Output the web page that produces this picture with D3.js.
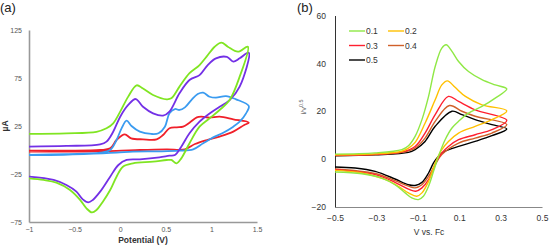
<!DOCTYPE html>
<html><head><meta charset="utf-8">
<script src="https://cdn.jsdelivr.net/npm/d3@7"></script>
<style>body{margin:0;background:#fff}svg{display:block}</style>
</head><body>
<script>
// ---------- Panel (a) data: [potential V, current µA], forward then reverse sweep
const aXTicks = [-1, -0.5, 0, 0.5, 1, 1.5];
const aYTicks = [-75, -25, 25, 75, 125];
const aGreen = [[-1,16.7],[-0.59,17.4],[-0.26,19],[-0.15,22.6],[-0.077,27.8],[0,40],[0.088,55.6],[0.18,67.4],[0.25,64],[0.36,57.3],[0.51,52.8],[0.56,53.8],[0.65,66],[0.76,80],[0.87,88.5],[0.945,97],[1.036,107.6],[1.11,111.8],[1.18,107.6],[1.29,102.4],[1.40,107.6],
  [1.31,76.4],[1.20,52],[1.09,41.7],[0.98,33],[0.87,24.3],[0.76,7],[0.67,-8.7],[0.617,-13.9],[0.56,-10.4],[0.51,-10.4],[0.36,-12.2],[0.14,-13.9],[0.03,-17.4],[-0.04,-27.8],[-0.11,-41.7],[-0.19,-53.8],[-0.26,-62.5],[-0.31,-65],[-0.37,-60.8],[-0.44,-52],[-0.55,-41.7],[-0.70,-34],[-0.84,-31.2],[-1,-29.5]];
const aPurple = [[-1,3.5],[-0.59,4.2],[-0.22,5.9],[-0.15,8.7],[-0.077,19],[0,34.7],[0.088,46.9],[0.17,53.1],[0.25,45],[0.36,38.2],[0.47,35.8],[0.54,40],[0.65,59],[0.76,72.9],[0.87,78],[0.96,88.5],[1.05,95.5],[1.17,97],[1.24,92],[1.31,95.5],[1.41,101.4],
  [1.31,66],[1.20,52],[1.09,45],[0.98,38],[0.87,29.5],[0.76,17.4],[0.67,3.5],[0.60,-5.2],[0.54,-5.9],[0.43,-7.6],[0.215,-9.7],[0.07,-10.4],[-0.02,-15.6],[-0.11,-27.8],[-0.22,-43.4],[-0.30,-52],[-0.35,-54.5],[-0.41,-51.4],[-0.48,-43.4],[-0.59,-36.5],[-0.73,-31.2],[-1,-27.8]];
const aBlue = [[-1,-5.2],[-0.59,-4.2],[-0.22,-2.8],[-0.11,0],[-0.04,10.4],[0.015,22.6],[0.07,30.6],[0.124,25],[0.215,19.1],[0.34,16.7],[0.42,17.4],[0.49,24.3],[0.54,38.2],[0.60,42.7],[0.65,41.7],[0.71,44.4],[0.78,52],[0.85,58.3],[0.91,59.7],[0.98,55.5],[1.05,54.5],[1.16,56.2],[1.27,52.8],[1.41,45.8],
  [1.38,38.2],[1.31,29.5],[1.24,24.3],[1.13,18],[1.02,13.2],[0.91,7],[0.80,0.7],[0.65,-0.7],[0.43,-1.4],[0.14,-1.7],[-0.04,-2.8],[-0.40,-4.2],[-0.77,-5.2],[-1,-5.2]];
const aRed = [[-1,-0.7],[-0.59,-0.7],[-0.22,0],[-0.11,1.7],[-0.04,10.4],[0.05,16.3],[0.12,12.2],[0.25,11.1],[0.40,11.1],[0.47,15.6],[0.54,22.6],[0.62,23.6],[0.69,24.3],[0.76,28.5],[0.84,34],[0.89,34.7],[0.98,33.7],[1.09,34.7],[1.24,32],[1.41,28.5],
  [1.36,26],[1.24,19.1],[1.09,14],[0.95,10.4],[0.82,6.2],[0.71,0.7],[0.51,0.7],[0.215,0],[-0.04,-1],[-0.40,-1.7],[-1,-1.7]];

// ---------- Panel (b) data: [V vs Fc, i/v^0.5]
const bXTicks = [-0.5, -0.3, -0.1, 0.1, 0.3, 0.5];
const bYTicks = [-20, 0, 20, 40, 60];
const bLabels = ["0.1", "0.2", "0.3", "0.4", "0.5"];
const b01 = [[-0.5,2.1],[-0.306,2.6],[-0.177,4],[-0.145,5.6],[-0.113,9.5],[-0.08,16.5],[-0.048,26.2],[-0.016,38.7],[0.016,46.4],[0.037,47.8],[0.065,45],[0.097,40.8],[0.145,36.6],[0.21,33.2],[0.274,31],[0.33,29.3],
  [0.274,25.5],[0.21,22],[0.145,19.2],[0.097,15.8],[0.065,13],[0.032,8.1],[0.0,1.2],[-0.024,-5.1],[-0.048,-11.3],[-0.073,-15.5],[-0.097,-16.9],[-0.129,-16.2],[-0.161,-14.1],[-0.21,-10.7],[-0.274,-7.9],[-0.37,-6.1],[-0.5,-5.4]];
const b02 = [[-0.5,1.8],[-0.306,2.2],[-0.177,3.3],[-0.145,4.6],[-0.113,7],[-0.065,15],[-0.016,24.8],[0.016,31],[0.043,32.7],[0.08,30],[0.13,26.2],[0.21,22.7],[0.33,20.2],
  [0.258,16.5],[0.177,13.7],[0.097,10.9],[0.048,7.4],[0.016,4],[-0.016,-1.6],[-0.048,-9.3],[-0.08,-14.1],[-0.105,-15.5],[-0.145,-14.1],[-0.19,-11.6],[-0.255,-8.6],[-0.37,-5.8],[-0.5,-4.7]];
const b03 = [[-0.5,1.6],[-0.306,2],[-0.177,3],[-0.113,5.3],[-0.065,10.9],[-0.016,18.6],[0.048,26.2],[0.097,24.1],[0.177,20.6],[0.33,16.2],
  [0.258,12.3],[0.177,10.2],[0.097,8.1],[0.048,5.3],[0.016,2.6],[-0.016,-2.3],[-0.048,-8.6],[-0.08,-12],[-0.11,-13.4],[-0.145,-12.5],[-0.21,-9.7],[-0.306,-6.5],[-0.5,-4.4]];
const b04 = [[-0.5,1.5],[-0.306,1.9],[-0.177,2.8],[-0.113,4.6],[-0.065,8.8],[-0.016,15.8],[0.053,22.4],[0.113,20],[0.177,17.9],[0.33,14.4],
  [0.258,10.9],[0.177,8.8],[0.097,6.7],[0.016,1.9],[-0.016,-2.3],[-0.048,-7.2],[-0.08,-10.7],[-0.113,-12],[-0.145,-11.3],[-0.21,-9],[-0.306,-6],[-0.5,-4.1]];
const b05 = [[-0.5,1.4],[-0.306,1.8],[-0.145,2.8],[-0.113,4],[-0.065,7.4],[-0.016,13.7],[0.065,20],[0.113,18.6],[0.177,16.5],[0.258,14.4],[0.33,12.6],
  [0.258,9.8],[0.177,7.4],[0.097,5.3],[0.032,3.3],[0.0,1.2],[-0.024,-1.6],[-0.048,-5.8],[-0.08,-9.7],[-0.113,-11],[-0.145,-10.7],[-0.21,-8.3],[-0.306,-5.1],[-0.403,-3.7],[-0.5,-3.3]];

const W = 551, H = 247;
const svg = d3.select("body").append("svg").attr("width", W).attr("height", H)
  .style("font-family", "'Liberation Sans', Arial, sans-serif");

// ---------- Panel (a)
const xa = d3.scaleLinear().domain([-1, 1.5]).range([29, 257]);
const ya = d3.scaleLinear().domain([-75, 125]).range([222, 30]);
const ga = svg.append("g");
ga.append("text").attr("x", 0).attr("y", 12).attr("font-size", 13).attr("fill", "#222").text("(a)");
const axA = ga.append("g").attr("transform", "translate(0,222)")
  .call(d3.axisBottom(xa).tickValues(aXTicks).tickSize(0).tickPadding(5).tickFormat(d3.format("")));
axA.select(".domain").attr("stroke", "#999").attr("stroke-width", 1.6);
axA.selectAll("text").attr("font-size", 7).attr("fill", "#555").attr("font-family", "'Liberation Sans', Arial, sans-serif");
const ayA = ga.append("g").attr("transform", "translate(29,0)")
  .call(d3.axisLeft(ya).tickValues(aYTicks).tickSize(0).tickPadding(7));
ayA.select(".domain").attr("stroke", "#999").attr("stroke-width", 1.6);
ayA.selectAll("text").attr("font-size", 7).attr("fill", "#555").attr("font-family", "'Liberation Sans', Arial, sans-serif");
ga.append("text").attr("x", 143).attr("y", 243).attr("text-anchor", "middle").attr("font-size", 8.5).attr("font-weight", "bold").attr("fill", "#333").text("Potential (V)");
ga.append("text").attr("transform", "translate(8,126) rotate(-90)").attr("text-anchor", "middle").attr("font-size", 8.5).attr("font-weight", "bold").attr("fill", "#333").text("µA");

const lineA = d3.line().x(d => xa(d[0])).y(d => ya(d[1])).curve(d3.curveCatmullRom.alpha(0.5));
[[aRed, "#f0202a"], [aBlue, "#3a9bf0"], [aPurple, "#7330e6"], [aGreen, "#80e522"]].forEach(([d, c]) => {
  ga.append("path").attr("d", lineA(d)).attr("fill", "none").attr("stroke", c).attr("stroke-width", 1.8);
});

// ---------- Panel (b)
const xb = d3.scaleLinear().domain([-0.5, 0.5]).range([335, 542]);
const yb = d3.scaleLinear().domain([-20, 60]).range([207, 15.5]);
const gb = svg.append("g");
gb.append("text").attr("x", 297).attr("y", 12).attr("font-size", 13).attr("fill", "#222").text("(b)");
const axB = gb.append("g").attr("transform", "translate(0,207)")
  .call(d3.axisBottom(xb).tickValues(bXTicks).tickSize(0).tickPadding(8).tickFormat(d3.format(".1f")));
axB.select(".domain").attr("stroke", "#888").attr("stroke-width", 1.2);
axB.selectAll("text").attr("font-size", 8.5).attr("fill", "#333").attr("font-family", "'Liberation Sans', Arial, sans-serif");
const ayB = gb.append("g").attr("transform", "translate(335,0)")
  .call(d3.axisLeft(yb).tickValues(bYTicks).tickSize(0).tickPadding(9));
ayB.select(".domain").attr("stroke", "#333").attr("stroke-width", 1);
ayB.selectAll("text").attr("font-size", 8.5).attr("fill", "#333").attr("font-family", "'Liberation Sans', Arial, sans-serif");
gb.append("text").attr("x", 429).attr("y", 235).attr("text-anchor", "middle").attr("font-size", 8.5).attr("fill", "#333").text("V vs. Fc");
const yl = gb.append("text").attr("transform", "translate(306,107) rotate(-90)").attr("text-anchor", "middle").attr("font-size", 7.5).attr("fill", "#666");
yl.append("tspan").text("i/v");
yl.append("tspan").attr("dy", -3).attr("font-size", 5.5).text("0.5");

const bColors = ["#8fe845", "#ffc000", "#ff2030", "#d0602a", "#000000"];
const bSeries = [b01, b02, b03, b04, b05];
const lineB = d3.line().x(d => xb(d[0])).y(d => yb(d[1])).curve(d3.curveCatmullRom.alpha(0.5));
[4, 3, 2, 1, 0].forEach(k => {
  gb.append("path").attr("d", lineB(bSeries[k])).attr("fill", "none").attr("stroke", bColors[k]).attr("stroke-width", 1.4);
});
// legend
bLabels.forEach((lab, k) => {
  const col = k % 2, row = Math.floor(k / 2);
  const x0 = 349 + col * 39, y0 = 31 + row * 14.5;
  gb.append("line").attr("x1", x0).attr("x2", x0 + 16).attr("y1", y0).attr("y2", y0).attr("stroke", bColors[k]).attr("stroke-width", 1.4);
  gb.append("text").attr("x", x0 + 17).attr("y", y0 + 3).attr("font-size", 8.5).attr("fill", "#333").text(lab);
});
</script>
</body></html>
